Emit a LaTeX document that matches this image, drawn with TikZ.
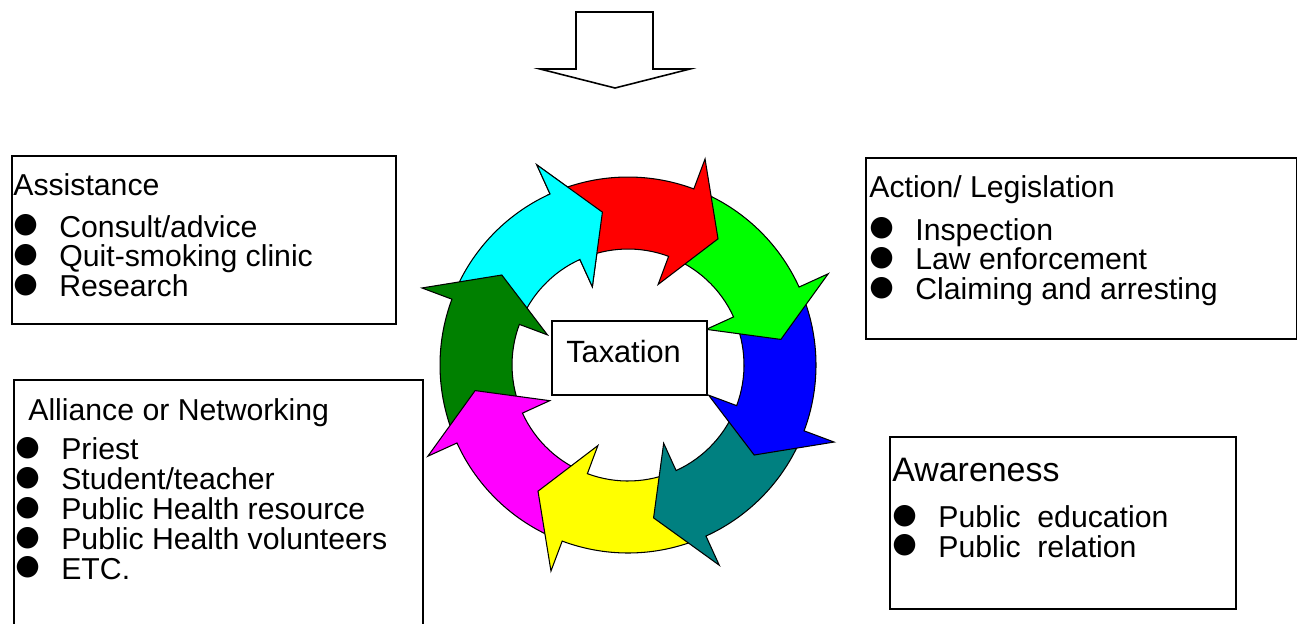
\documentclass[tikz,border=0pt]{standalone}
\usepackage{fontspec}
\setmainfont{Liberation Sans}
\newfontfamily\dotfont{DejaVu Sans}
\usetikzlibrary{positioning}

\definecolor{arrred}{RGB}{255,0,0}
\definecolor{arrgreen}{RGB}{0,255,0}
\definecolor{arrblue}{RGB}{0,0,255}
\definecolor{arrteal}{RGB}{0,128,128}
\definecolor{arryellow}{RGB}{255,255,0}
\definecolor{arrmagenta}{RGB}{255,0,255}
\definecolor{arrdkgreen}{RGB}{0,128,0}
\definecolor{arrcyan}{RGB}{0,255,255}

% bullet, then the item text
\newcommand{\bitem}[1]{\makebox[0.92cm][l]{\raisebox{0.09cm}{\dotfont\fontsize{16}{16}\selectfont ●}}#1}

\tikzset{
  infobox/.style={draw, line width=1pt, fill=white, rectangle, anchor=north west, inner sep=0pt},
  infotext/.style={anchor=north west, align=left, inner sep=0pt, font=\fontsize{17.2}{17}\selectfont},
  ringarrow/.style={draw=black, line width=0.6pt, line join=miter},
}

\begin{document}
\begin{tikzpicture}[x=0.02cm, y=0.02cm]
\useasboundingbox (0,0) rectangle (1297,-623);

% block arrow on top
\draw[line width=0.9pt, fill=white] (576,-12) -- (653,-12) -- (653,-69) -- (690,-69)
  -- (615,-88) -- (540,-69) -- (576,-69) -- cycle;

% the cycle of eight curved arrows
\begin{scope}[shift={(628,-365)}]
  \foreach \b/\c in {-245.5/arrcyan, -200.5/arrdkgreen, -155.5/arrmagenta, -110.5/arryellow,
                     -65.5/arrteal, -20.5/arrblue, 24.5/arrgreen, 69.5/arrred}
    \draw[ringarrow, fill=\c] (\b+45:188) arc[start angle=\b+45, end angle=\b, radius=3.76cm]
      -- (\b:220) -- (\b-15:155) -- (\b:86) -- (\b:116)
      arc[start angle=\b, end angle=\b+45, radius=2.32cm] -- cycle;
  % cyan head once more, on top of the red tail
  \begin{scope}
    \clip (0,0) -- (115.5:260) arc[start angle=115.5, end angle=85, radius=5.2cm] -- cycle;
    \draw[ringarrow, fill=arrcyan] (159.5:188) arc[start angle=159.5, end angle=114.5, radius=3.76cm]
      -- (114.5:220) -- (99.5:155) -- (114.5:86) -- (114.5:116)
      arc[start angle=114.5, end angle=159.5, radius=2.32cm] -- cycle;
  \end{scope}
\end{scope}

\node[draw, line width=0.85pt, fill=white, inner sep=0pt, minimum width=3.1cm,
      text height=0.82cm, text depth=0.66cm, font=\fontsize{17.5}{17.5}\selectfont]
      (tax) at (629.5,-358) {Taxation\hspace*{0.24cm}};

% the four boxes
\node[infobox, minimum width=7.68cm, minimum height=3.36cm] (assist) at (11,-155) {};
\node[infotext, xshift=0.04cm, yshift=-0.36cm] (assisttext) at (assist.north west)
  {Assistance\\[6.8pt]
   \bitem{Consult/advice}\\
   \bitem{Quit-smoking clinic}\\
   \bitem{Research}};

\node[infobox, minimum width=8.62cm, minimum height=3.62cm] (action) at (865,-157) {};
\node[infotext, xshift=0.08cm, yshift=-0.36cm] (actiontext) at (action.north west)
  {Action/ Legislation\\[7.4pt]
   \bitem{Inspection}\\
   \bitem{Law enforcement}\\
   \bitem{Claiming and arresting}};

\node[infobox, minimum width=8.18cm, minimum height=5.22cm] (alliance) at (13,-379) {};
\node[infotext, xshift=0.04cm, yshift=-0.38cm] (alliancetext) at (alliance.north west)
  {\hspace*{0.26cm}Alliance or Networking\\[5.6pt]
   \bitem{Priest}\\
   \bitem{Student/teacher}\\
   \bitem{Public Health resource}\\
   \bitem{Public Health volunteers}\\
   \bitem{ETC.}};

\node[infobox, minimum width=6.92cm, minimum height=3.44cm] (aware) at (889,-436) {};
\node[infotext, xshift=0.06cm, yshift=-0.44cm] (awaretext) at (aware.north west)
  {{\fontsize{19.3}{19.3}\selectfont Awareness}\\[9.1pt]
   \bitem{Public\ \ education}\\
   \bitem{Public\ \ relation}};
\end{tikzpicture}
\end{document}
